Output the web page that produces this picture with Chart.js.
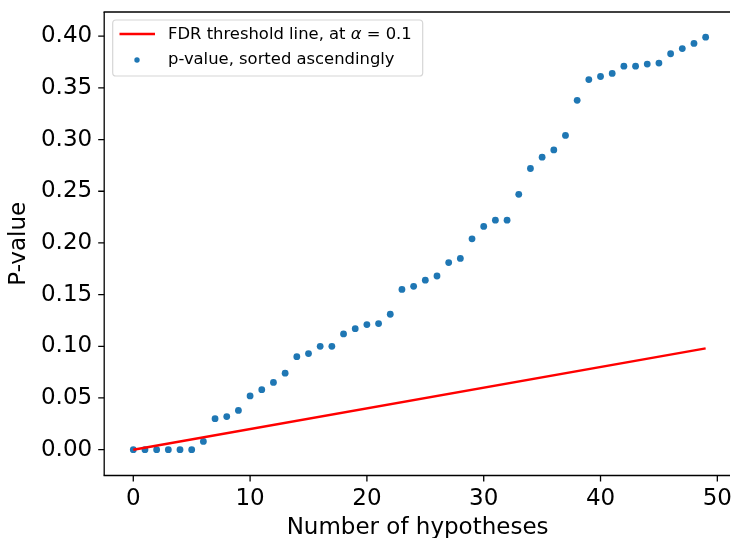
<!DOCTYPE html>
<html>
<head>
<meta charset="utf-8">
<script src="https://cdn.jsdelivr.net/npm/chart.js@4/dist/chart.umd.min.js"></script>
<style>
html, body { margin: 0; padding: 0; overflow: hidden; background: #fff; width: 731px; height: 538px; }
canvas { display: block; }
</style>
</head>
<body>
<canvas id="c" width="731" height="538"></canvas>
<script>
// ---- data ----
const pValues = [
  0.000, 0.000, 0.000, 0.000, 0.000, 0.000, 0.008, 0.030, 0.032, 0.038,
  0.052, 0.058, 0.065, 0.074, 0.090, 0.093, 0.100, 0.100, 0.112, 0.117,
  0.121, 0.122, 0.131, 0.155, 0.158, 0.164, 0.168, 0.181, 0.185, 0.204,
  0.216, 0.222, 0.222, 0.247, 0.272, 0.283, 0.290, 0.304, 0.338, 0.358,
  0.361, 0.364, 0.371, 0.371, 0.373, 0.374, 0.383, 0.388, 0.393, 0.399
];
const fdrX = [0, 49];
const fdrY = [0.000, 0.098];
const xTicks = [0, 10, 20, 30, 40, 50];
const yTicks = [0.00, 0.05, 0.10, 0.15, 0.20, 0.25, 0.30, 0.35, 0.40];
const lineLabelText = 'FDR threshold line, at ';
const lineLabelMath = ['α', ' = 0.1'];
const scatterLabel = 'p-value, sorted ascendingly';
const xTitle = 'Number of hypotheses';
const yTitle = 'P-value';

const FONT = '"DejaVu Sans", "Liberation Sans", sans-serif';

function zeroPad(s) {
  s.paddingTop = 0; s.paddingBottom = 0; s.paddingLeft = 0; s.paddingRight = 0;
}

// axes spines (right spine is outside the visible picture) and outward tick marks
const framePlugin = {
  id: 'frame',
  afterDatasetsDraw(chart) {
    const {ctx, chartArea: a, scales} = chart;
    ctx.save();
    ctx.strokeStyle = '#000';
    ctx.lineWidth = 1.3;
    ctx.lineCap = 'butt';
    const rightEnd = a.right - 1;
    ctx.beginPath();
    ctx.moveTo(a.left - 0.65, a.top);
    ctx.lineTo(rightEnd, a.top);
    ctx.stroke();
    ctx.beginPath();
    ctx.moveTo(a.left - 0.65, a.bottom);
    ctx.lineTo(rightEnd, a.bottom);
    ctx.stroke();
    ctx.beginPath();
    ctx.moveTo(a.left, a.top);
    ctx.lineTo(a.left, a.bottom);
    ctx.stroke();
    ctx.beginPath();
    xTicks.forEach(v => {
      const px = scales.x.getPixelForValue(v);
      ctx.moveTo(px, a.bottom);
      ctx.lineTo(px, a.bottom + 6);
    });
    yTicks.forEach(v => {
      const py = scales.y.getPixelForValue(v);
      ctx.moveTo(a.left, py);
      ctx.lineTo(a.left - 6, py);
    });
    ctx.stroke();
    ctx.restore();
  }
};

const legendPlugin = {
  id: 'customLegend',
  afterDraw(chart) {
    const ctx = chart.ctx;
    ctx.save();
    const bx = 112.7, by = 20, bw = 310, bh = 56, r = 3.3;
    ctx.beginPath();
    ctx.moveTo(bx + r, by);
    ctx.lineTo(bx + bw - r, by);
    ctx.arcTo(bx + bw, by, bx + bw, by + r, r);
    ctx.lineTo(bx + bw, by + bh - r);
    ctx.arcTo(bx + bw, by + bh, bx + bw - r, by + bh, r);
    ctx.lineTo(bx + r, by + bh);
    ctx.arcTo(bx, by + bh, bx, by + bh - r, r);
    ctx.lineTo(bx, by + r);
    ctx.arcTo(bx, by, bx + r, by, r);
    ctx.closePath();
    ctx.fillStyle = 'rgba(255,255,255,0.8)';
    ctx.fill();
    ctx.strokeStyle = '#d6d6d6';
    ctx.lineWidth = 1.2;
    ctx.stroke();
    ctx.strokeStyle = chart.data.datasets[0].borderColor;
    ctx.lineWidth = 2.5;
    ctx.beginPath();
    ctx.moveTo(119.5, 34);
    ctx.lineTo(155, 34);
    ctx.stroke();
    ctx.fillStyle = chart.data.datasets[1].backgroundColor;
    ctx.beginPath();
    ctx.arc(137, 60, 2.7, 0, Math.PI * 2);
    ctx.fill();
    ctx.fillStyle = '#000';
    ctx.textBaseline = 'alphabetic';
    ctx.textAlign = 'left';
    let x = 168;
    ctx.font = '16.4px ' + FONT;
    ctx.fillText(lineLabelText, x, 39.3);
    x += ctx.measureText(lineLabelText).width;
    ctx.font = 'italic 16.4px ' + FONT;
    ctx.fillText(lineLabelMath[0], x, 39.3);
    x += ctx.measureText(lineLabelMath[0]).width;
    ctx.font = '16.4px ' + FONT;
    ctx.fillText(lineLabelMath[1], x, 39.3);
    ctx.fillText(scatterLabel, 168, 64.3);
    ctx.restore();
  }
};

new Chart(document.getElementById('c'), {
  type: 'scatter',
  data: {
    datasets: [
      {
        label: lineLabelText + lineLabelMath.join(''),
        data: fdrX.map((x, i) => ({x: x, y: fdrY[i]})),
        showLine: true,
        borderColor: '#ff0000',
        backgroundColor: '#ff0000',
        borderWidth: 2.5,
        pointRadius: 0,
        order: 0
      },
      {
        label: scatterLabel,
        data: pValues.map((v, i) => ({x: i, y: v})),
        backgroundColor: '#1f77b4',
        borderColor: '#1f77b4',
        borderWidth: 0,
        pointRadius: 3.4,
        order: 1
      }
    ]
  },
  options: {
    responsive: false,
    animation: false,
    devicePixelRatio: 1,
    layout: { autoPadding: false, padding: { left: 0, top: 12, right: 0, bottom: 0 } },
    plugins: { legend: { display: false }, tooltip: { enabled: false } },
    scales: {
      x: {
        type: 'linear',
        min: -2.49,
        max: 51.17,
        afterBuildTicks: s => { s.ticks = xTicks.map(v => ({value: v})); },
        afterFit: s => { s.height = 62.5; zeroPad(s); },
        ticks: {
          color: '#000',
          font: { family: FONT, size: 23 },
          padding: 10,
          maxRotation: 0,
          callback: v => String(v)
        },
        grid: { display: false, drawTicks: false },
        border: { display: false },
        title: {
          display: true,
          text: xTitle,
          color: '#000',
          font: { family: FONT, size: 23, lineHeight: 0.9 },
          padding: { top: 0, bottom: 0 }
        }
      },
      y: {
        type: 'linear',
        min: -0.025,
        max: 0.4234,
        afterBuildTicks: s => { s.ticks = yTicks.map(v => ({value: v})); },
        afterFit: s => { s.width = 104.2; zeroPad(s); },
        ticks: {
          color: '#000',
          font: { family: FONT, size: 23 },
          padding: 12,
          callback: v => Number(v).toFixed(2)
        },
        grid: { display: false, drawTicks: false },
        border: { display: false },
        title: {
          display: true,
          text: yTitle,
          color: '#000',
          font: { family: FONT, size: 23, lineHeight: 0.9 },
          padding: { top: 9, bottom: 0 }
        }
      }
    }
  },
  plugins: [framePlugin, legendPlugin]
});
</script>
</body>
</html>
